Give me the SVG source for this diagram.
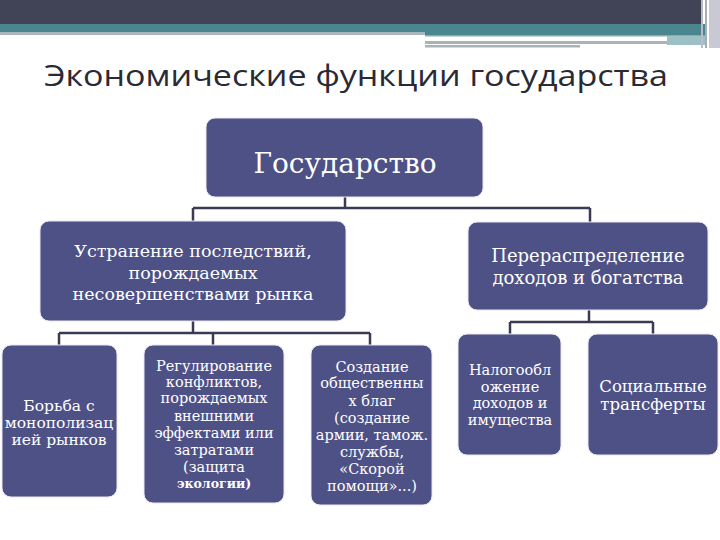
<svg xmlns="http://www.w3.org/2000/svg" width="720" height="540" viewBox="0 0 720 540">
<style>
.box{fill:#4e5186;stroke:#e8e8f0;stroke-width:1}
.t{fill:#ffffff;font-family:"DejaVu Serif","Liberation Serif",serif;text-anchor:middle}
.con{fill:none;stroke:#3a3b52;stroke-width:2.5}
.title{fill:#2a2a35;font-family:"Open Sans","Liberation Sans",sans-serif;font-size:30px}
</style>
<rect x="0" y="0" width="720" height="540" fill="#ffffff"/>
<g id="header">
<rect x="0" y="0" width="702" height="24" fill="#404456"/>
<rect x="0" y="24" width="705" height="8" fill="#4a868d"/>
<rect x="0" y="32" width="425" height="3" fill="#a9b7bc"/>
<rect x="425" y="32" width="280" height="3" fill="#4a868d"/>
<rect x="425" y="35" width="280" height="1.5" fill="#8fa8aa"/>
<rect x="425" y="41" width="242" height="3" fill="#a8b4b4"/>
<rect x="667" y="36" width="38" height="9" fill="#9cc0c4"/>
<rect x="425" y="45" width="155" height="2.5" fill="#a8b4b4"/>
<rect x="701" y="0" width="2" height="48" fill="#b8bcc8"/>
<rect x="705" y="0" width="2" height="48" fill="#a8acb8"/>
<rect x="709" y="0" width="11" height="48" fill="#c9c9d4"/>
</g>
<text class="title" x="44" y="86" textLength="624" lengthAdjust="spacingAndGlyphs">Экономические функции государства</text>
<g id="connectors">
<path class="con" d="M345,197 V208 M193,208 H590 M193,208 V221 M590,208 V222"/>
<path class="con" d="M193,321 V333 M59,333 H370 M59,333 V345 M213,333 V345 M370,333 V345"/>
<path class="con" d="M589,310 V322 M510,322 H653 M510,322 V334 M653,322 V334"/>
</g>
<g id="state">
<rect class="box" x="206" y="118" width="277" height="79" rx="9"/>
<text class="t" x="345" y="173" font-size="28">Государство</text>
</g>
<g id="elimination">
<rect class="box" x="40" y="221" width="306" height="100" rx="9"/>
<text class="t" font-size="17.5"><tspan x="193" y="257">Устранение последствий,</tspan><tspan x="193" y="278.5">порождаемых</tspan><tspan x="193" y="300">несовершенствами рынка</tspan></text>
</g>
<g id="redistribution">
<rect class="box" x="468" y="222" width="240" height="88" rx="9"/>
<text class="t" font-size="18"><tspan x="588" y="262">Перераспределение</tspan><tspan x="588" y="284">доходов и богатства</tspan></text>
</g>
<g id="monopoly">
<rect class="box" x="2" y="345" width="115" height="152" rx="9"/>
<text class="t" font-size="15.5"><tspan x="59" y="411">Борьба с</tspan><tspan x="59" y="428">монополизац</tspan><tspan x="59" y="445">ией рынков</tspan></text>
</g>
<g id="externalities">
<rect class="box" x="144" y="345" width="140" height="158" rx="9"/>
<text class="t" font-size="14.5"><tspan x="214" y="371">Регулирование</tspan><tspan x="214" y="387">конфликтов,</tspan><tspan x="214" y="403">порождаемых</tspan><tspan x="214" y="421">внешними</tspan><tspan x="214" y="438">эффектами или</tspan><tspan x="214" y="455">затратами</tspan><tspan x="214" y="472">(защита</tspan><tspan x="214" y="488" font-weight="bold" font-size="12.5">экологии)</tspan></text>
</g>
<g id="publicgoods">
<rect class="box" x="311" y="345" width="121" height="160" rx="9"/>
<text class="t" font-size="14.5"><tspan x="372" y="372">Создание</tspan><tspan x="372" y="388">общественны</tspan><tspan x="372" y="406">х благ</tspan><tspan x="372" y="423">(создание</tspan><tspan x="372" y="440">армии, тамож.</tspan><tspan x="372" y="457">службы,</tspan><tspan x="372" y="474">«Скорой</tspan><tspan x="372" y="491">помощи»...)</tspan></text>
</g>
<g id="taxation">
<rect class="box" x="458" y="334" width="103" height="121" rx="9"/>
<text class="t" font-size="14.5"><tspan x="510" y="375">Налогообл</tspan><tspan x="510" y="392">ожение</tspan><tspan x="510" y="408">доходов и</tspan><tspan x="510" y="425">имущества</tspan></text>
</g>
<g id="transfers">
<rect class="box" x="588" y="334" width="130" height="121" rx="9"/>
<text class="t" font-size="16.5"><tspan x="653" y="392">Социальные</tspan><tspan x="653" y="410">трансферты</tspan></text>
</g>
</svg>
